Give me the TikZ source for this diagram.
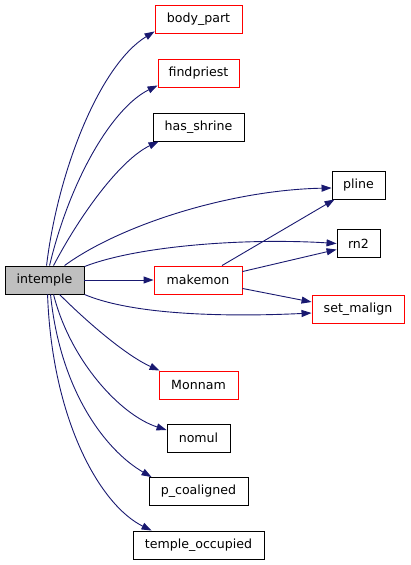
\documentclass[tikz,border=0pt]{standalone}
\usepackage{fontspec}
\setmainfont{DejaVu Sans}
\usetikzlibrary{arrows.meta}
\definecolor{edgeblue}{HTML}{191970}
\definecolor{boxred}{HTML}{FF0000}
\definecolor{boxgray}{HTML}{BFBFBF}
\begin{document}
\begin{tikzpicture}[x=1pt,y=-1pt,
  fn/.style={draw=black,line width=0.9pt,minimum height=28pt,inner sep=0pt,font=\fontsize{12.6}{14}\selectfont,fill=white},
  redfn/.style={fn,draw=boxred},
  cur/.style={fn,fill=boxgray},
  edge/.style={draw=edgeblue,line width=0.9pt,-{Triangle[length=10pt,width=7pt]}}]
\useasboundingbox (0,0) rectangle (411,565);
\node[cur,minimum width=79pt] (intemple) at (44.5,280) {intemple};
\node[redfn,minimum width=87pt] (body) at (198.5,19) {body\_part};
\node[redfn,minimum width=81pt] (find) at (198.5,73) {findpriest};
\node[fn,minimum width=91pt] (shrine) at (198.5,127) {has\_shrine};
\node[redfn,minimum width=88pt] (makemon) at (198,280) {makemon};
\node[redfn,minimum width=79pt] (monnam) at (198.5,385) {Monnam};
\node[fn,minimum width=63pt] (nomul) at (198.5,438) {nomul};
\node[fn,minimum width=99pt] (pco) at (198.5,491.5) {p\_coaligned};
\node[fn,minimum width=131pt] (temple) at (198.5,545) {temple\_occupied};
\node[fn,minimum width=53pt] (pline) at (358.5,185) {pline};
\node[fn,minimum width=43pt] (rn2) at (358.5,243.5) {rn2};
\node[redfn,minimum width=92pt] (malign) at (358,309) {set\_malign};

\draw[edge] ([xshift=42pt]intemple.north west) .. controls (58,170) and (100,65) .. ([yshift=2pt]body.south west);
\draw[edge] ([xshift=45pt]intemple.north west) .. controls (70,180) and (112,108) .. ([yshift=2pt]find.south west);
\draw[edge] ([xshift=49pt]intemple.north west) .. controls (80,215) and (120,160) .. ([xshift=6pt]shrine.south west);
\draw[edge] ([xshift=60pt]intemple.north west) .. controls (120,225) and (230,190) .. ([yshift=-3pt]pline.west);
\draw[edge] ([yshift=-1pt]intemple.north east) .. controls (140,245) and (250,238) .. (rn2.west);
\draw[edge] (intemple.east) -- (makemon.west);
\draw[edge] (intemple.south east) .. controls (140,318) and (250,316) .. ([yshift=-4pt]malign.west);
\draw[edge] ([xshift=24pt]makemon.north) -- ([xshift=3pt]pline.south west);
\draw[edge] ([yshift=-6pt]makemon.north east) -- ([yshift=-6pt]rn2.west);
\draw[edge] ([yshift=6pt]makemon.south east) -- ([yshift=7pt]malign.west);
\draw[edge] ([xshift=55pt]intemple.south west) .. controls (85,320) and (125,355) .. ([xshift=1pt]monnam.north west);
\draw[edge] ([xshift=49pt]intemple.south west) .. controls (70,360) and (120,415) .. ([yshift=8pt]nomul.west);
\draw[edge] ([xshift=46pt]intemple.south west) .. controls (60,390) and (105,450) .. ([xshift=3pt]pco.north west);
\draw[edge] ([xshift=43pt]intemple.south west) .. controls (52,420) and (100,505) .. ([xshift=19pt]temple.north west);
\end{tikzpicture}
\end{document}
